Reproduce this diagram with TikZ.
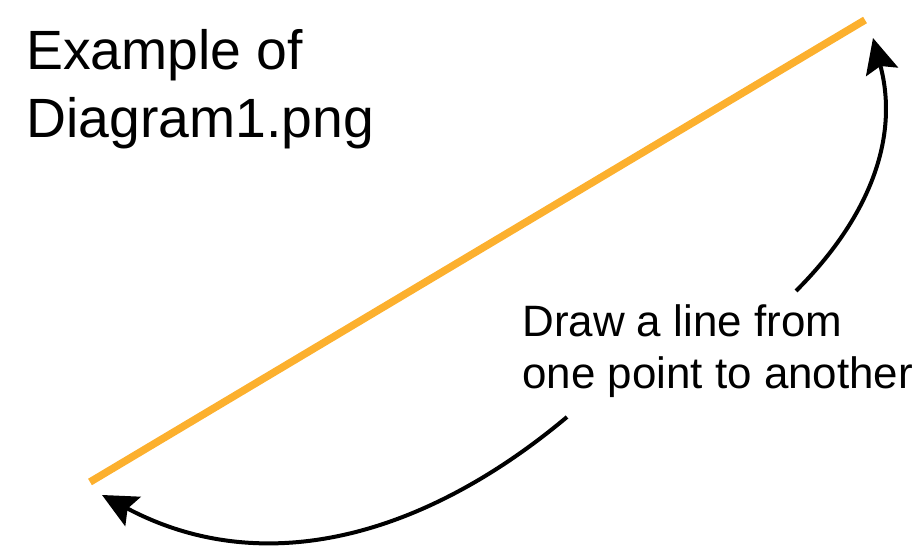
\documentclass[tikz,border=0pt]{standalone}
\usepackage{fontspec}
\setmainfont{Liberation Sans}
\usetikzlibrary{arrows.meta, positioning}
\definecolor{LineOrange}{RGB}{252,176,46}
\definecolor{NoteBlack}{RGB}{0,0,0}

\begin{document}
\begin{tikzpicture}[
    x=0.02cm,
    y=0.02cm,
    segment/.style={LineOrange, line width=0.15cm},
    callout/.style={NoteBlack, line width=0.08cm,
      -{Stealth[length=0.70cm, width=0.66cm, inset=0.12cm]}}
]
\useasboundingbox (0,0) rectangle (917,550);

% Title
\node[anchor=north west, inner sep=0pt, align=left,
      font=\fontsize{31.5}{39}\selectfont] (title) at (26,521)
  {Example of\\Diagram1.png};

% The line and its two end points
\coordinate (lineStart) at (90,68);
\coordinate (lineEnd) at (865,530);
\draw[segment] (lineStart) -- (lineEnd);

% Note
\node[anchor=north west, inner sep=0pt, align=left,
      font=\fontsize{25}{29.6}\selectfont] (note) at (522,246)
  {Draw a line from\\one point to another};

% Arrows from the note to the end points
\coordinate (upFrom) at (796,259);
\coordinate (downFrom) at (567,133);
\coordinate (tipEnd) at (873,512);
\coordinate (tipStart) at (102,55);
\draw[callout] (upFrom) to[out=45, in=-75] (tipEnd);
\draw[callout] (downFrom) to[out=-140, in=-28] (tipStart);

\end{tikzpicture}
\end{document}
